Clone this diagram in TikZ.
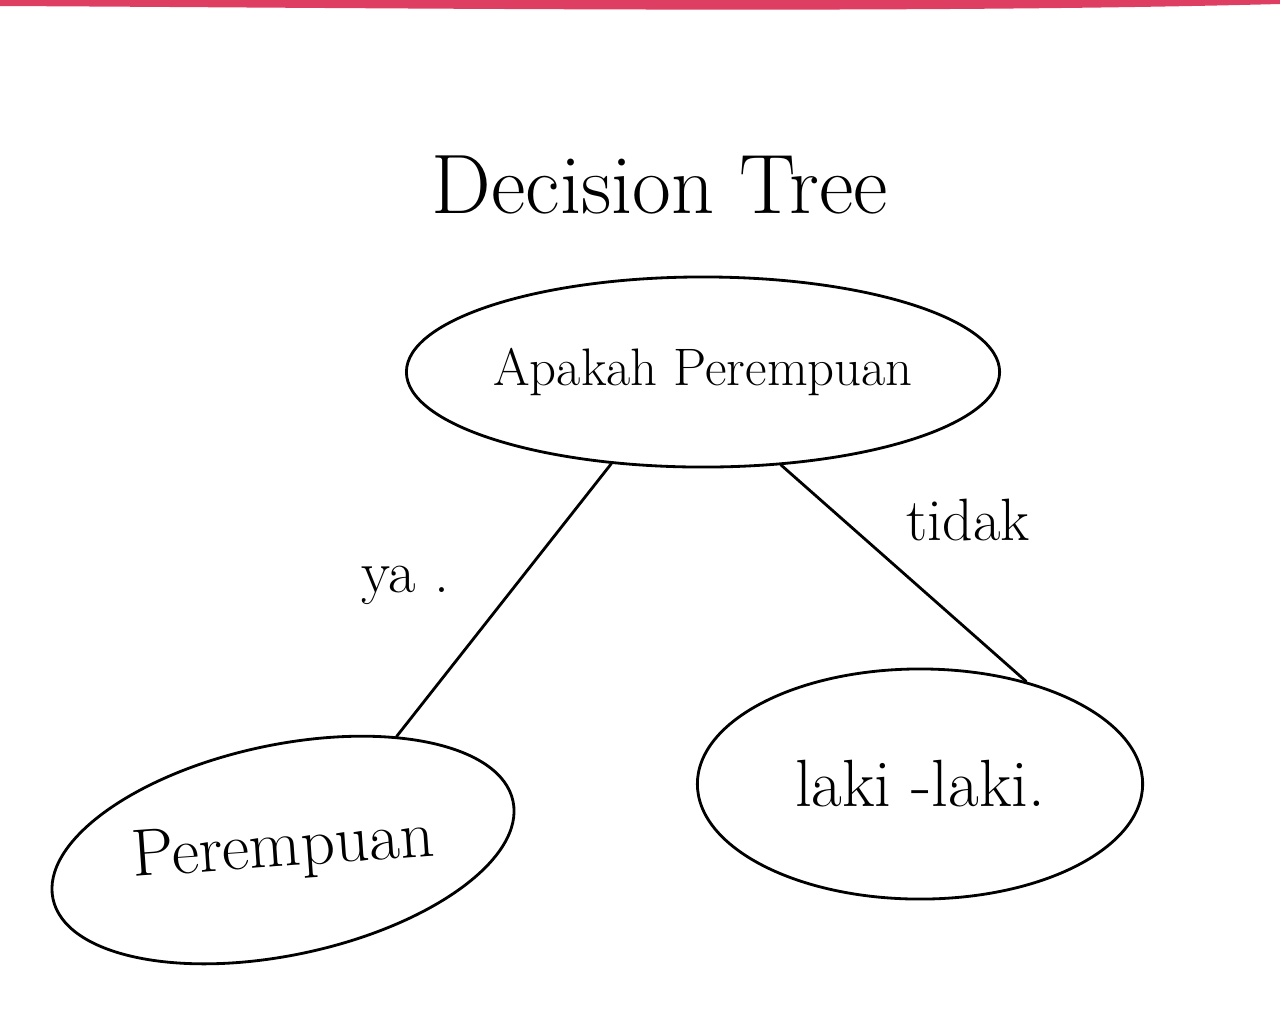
\documentclass[tikz,border=0pt]{standalone}
\usetikzlibrary{shapes.geometric}
\definecolor{band}{RGB}{222,62,98}
\tikzset{
  oval/.style={draw, ellipse, thick, inner sep=0pt},
  branch/.style={thick, line cap=round},
  lab/.style={inner sep=1pt}
}
\begin{document}
\begin{tikzpicture}[x=0.01cm, y=-0.01cm]
            \useasboundingbox (0,0) rectangle (1280,1030);

            % pink edge of the sheet
            \fill[band] (0,0) -- (1280,0) -- (1280,4) .. controls (900,14) and (400,8) .. (0,6) -- cycle;

            \node (title) at (660,185) {\fontsize{24}{28}\selectfont Decision Tree};

            \node[oval, minimum width=5.35cm, minimum height=1.9cm] (root) at (703,372)
                {\fontsize{15}{18}\selectfont Apakah Perempuan};
            \node[oval, minimum width=4.7cm, minimum height=2.1cm, rotate=12] (yes) at (283,850)
                {\rotatebox{-8}{\fontsize{19}{22}\selectfont Perempuan}};
            \node[oval, minimum width=4.45cm, minimum height=2.3cm] (no) at (920,784)
                {\fontsize{19}{22}\selectfont laki -laki.};

            \draw[branch] (root.225) -- (yes.33);
            \draw[branch] (root.310) -- (no.44);

            \node[lab] (ya) at (405,585) {\fontsize{17}{20}\selectfont ya .};
            \node[lab] (tidak) at (968,520) {\fontsize{17}{20}\selectfont tidak};
        \end{tikzpicture}
\end{document}
